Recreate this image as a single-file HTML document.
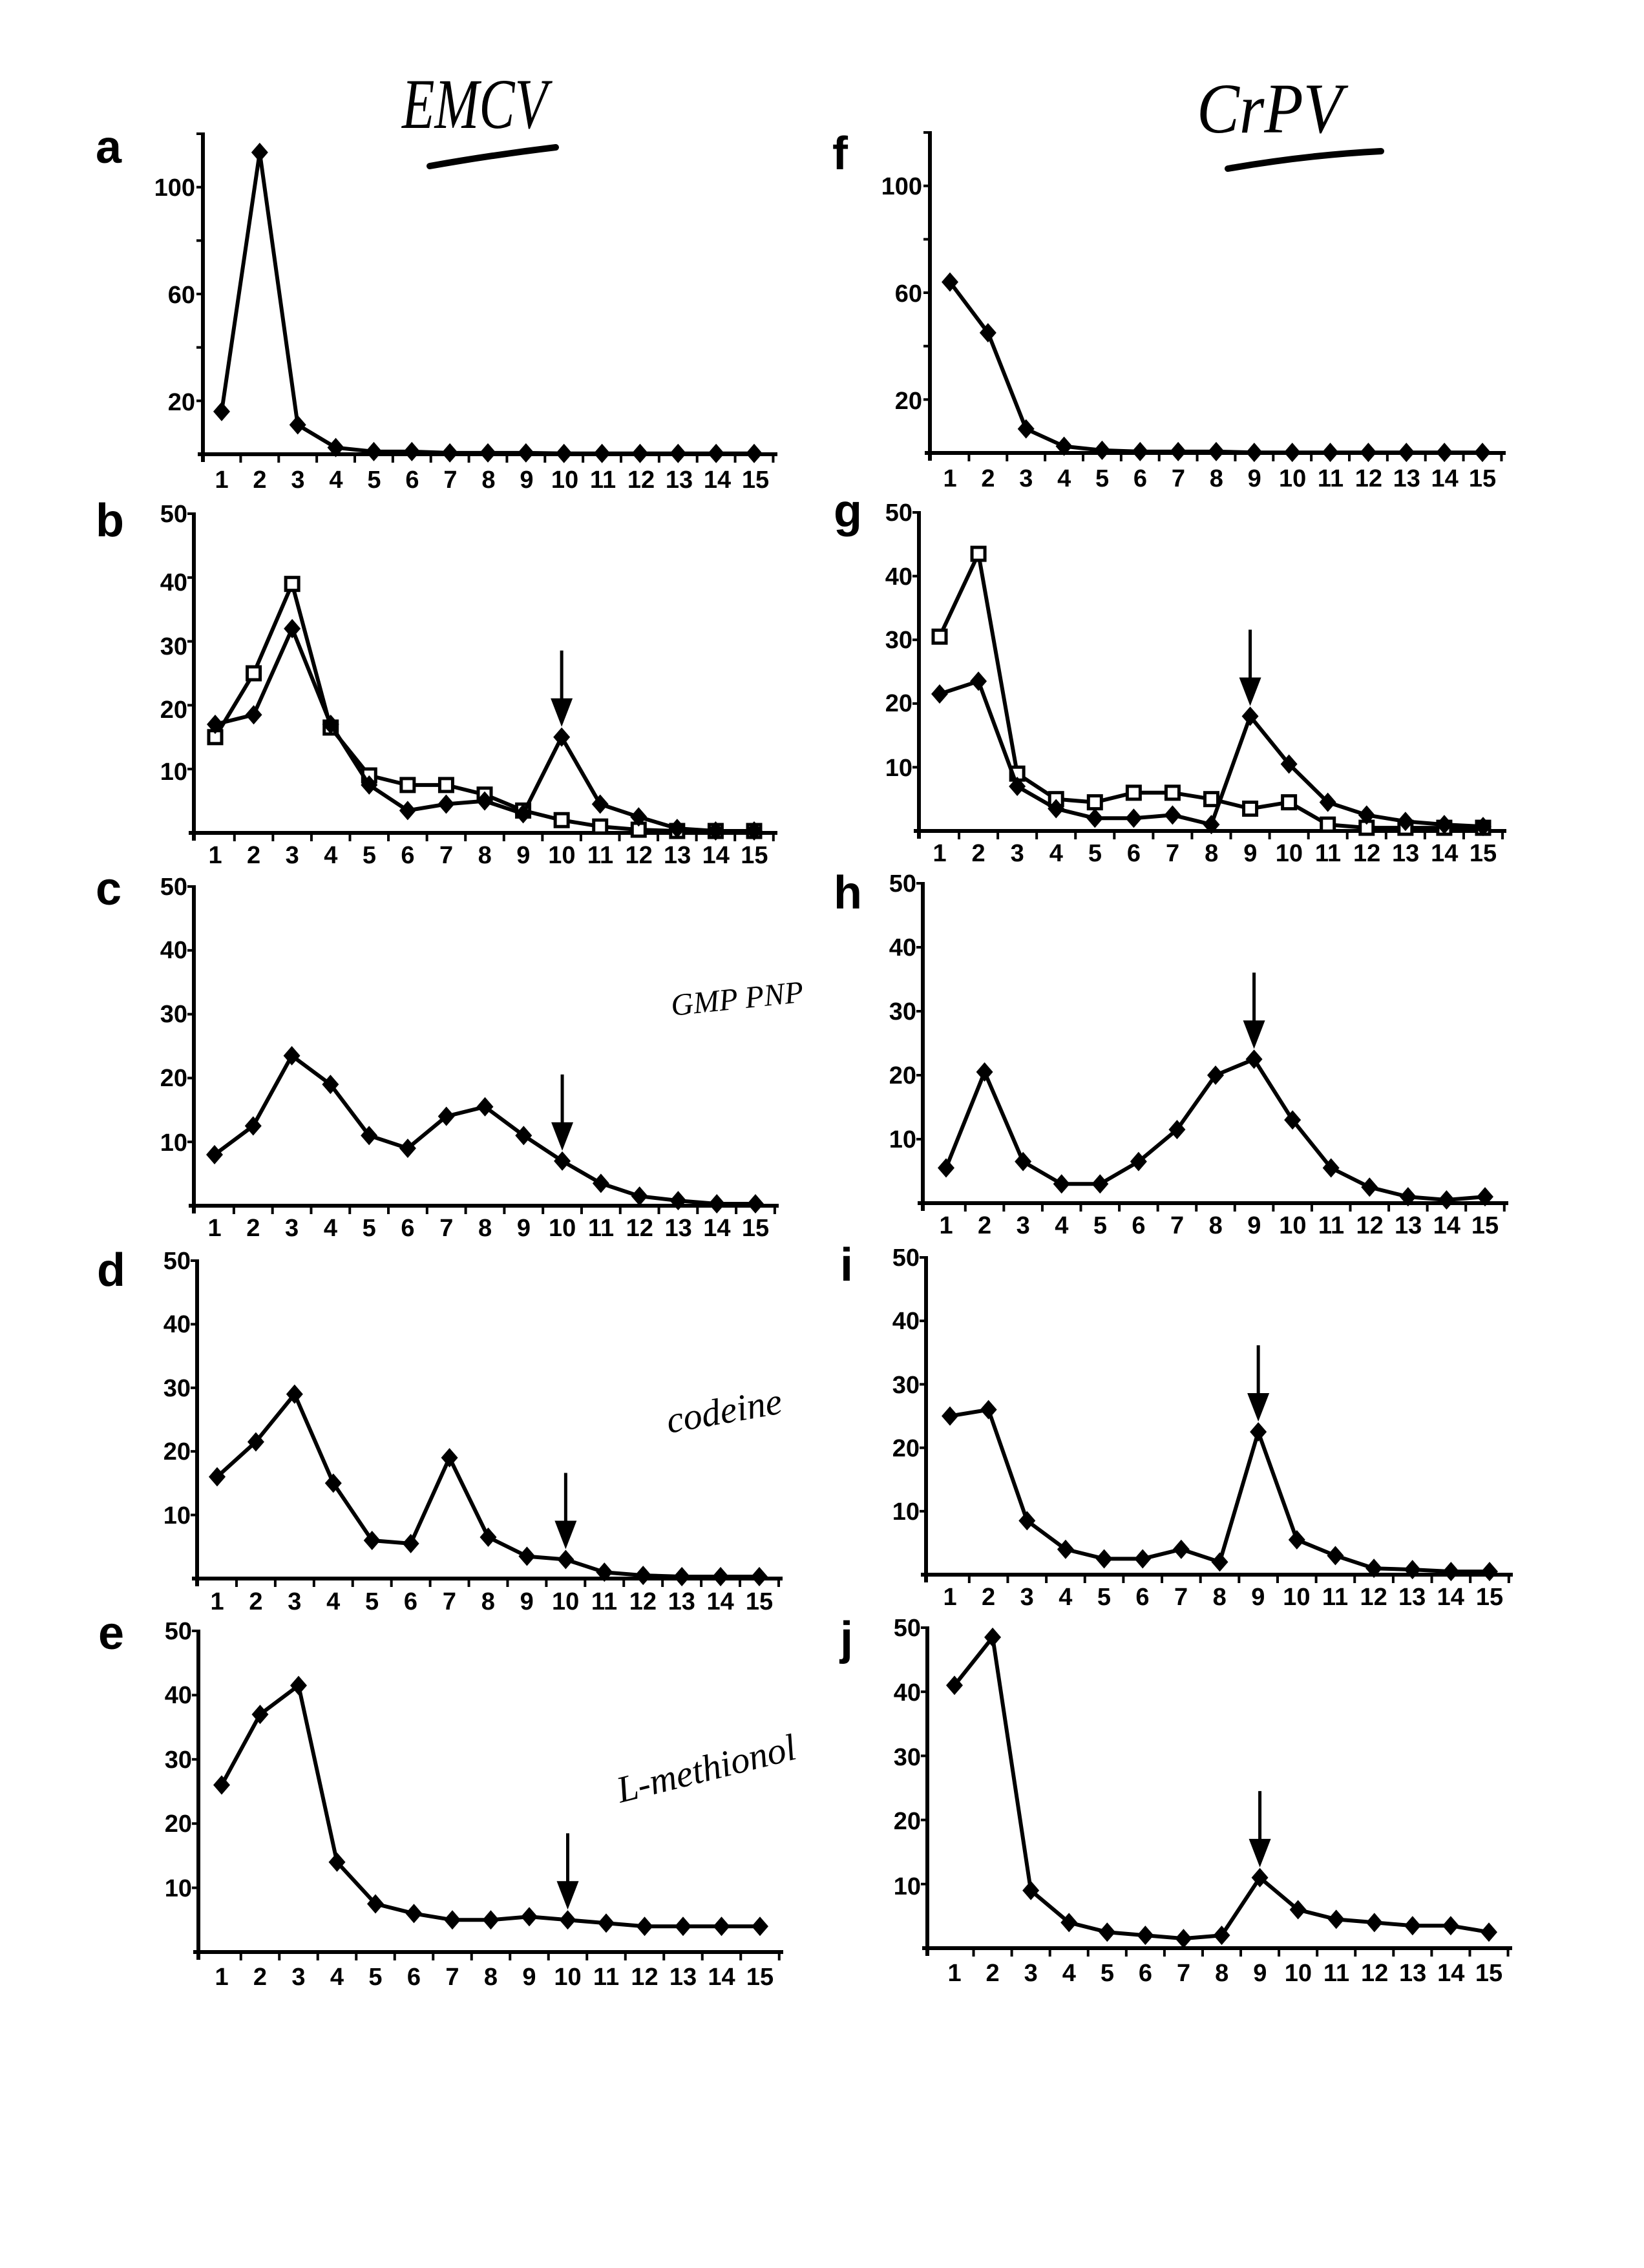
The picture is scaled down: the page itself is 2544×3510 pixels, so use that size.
<!DOCTYPE html>
<html><head><meta charset="utf-8"><style>
html,body{margin:0;padding:0;background:#fff;}
svg{display:block;}
.t{font-family:"Liberation Sans",sans-serif;font-weight:bold;font-size:38px;fill:#000;}
.L{font-family:"Liberation Sans",sans-serif;font-weight:bold;font-size:72px;fill:#000;}
.h{font-family:"Liberation Serif",serif;font-style:italic;fill:#000;}
</style></head><body>
<svg id="s" width="2544" height="3510" viewBox="0 0 2544 3510" xmlns="http://www.w3.org/2000/svg">
<rect width="2544" height="3510" fill="#fff"/>
<g id="geo"></g>
<text class="L" x="148" y="252">a</text>
<text class="L" x="148" y="830">b</text>
<text class="L" x="148" y="1400">c</text>
<text class="L" x="150" y="1990">d</text>
<text class="L" x="152" y="2552">e</text>
<text class="L" x="1288" y="262">f</text>
<text class="L" x="1290" y="815">g</text>
<text class="L" x="1290" y="1406">h</text>
<text class="L" x="1300" y="1982">i</text>
<text class="L" x="1300" y="2560">j</text>
<text class="h" x="622" y="198" font-size="110" textLength="225" lengthAdjust="spacingAndGlyphs">EMCV</text>
<path d="M665,257 Q760,240 860,228" stroke="#000" stroke-width="10" fill="none" stroke-linecap="round"/>
<text class="h" x="1852" y="205" font-size="110" textLength="225" lengthAdjust="spacingAndGlyphs">CrPV</text>
<path d="M1900,261 Q2020,240 2137,234" stroke="#000" stroke-width="10" fill="none" stroke-linecap="round"/>
<text class="h" x="1040" y="1572" font-size="48" transform="rotate(-6 1040 1572)">GMP PNP</text>
<text class="h" x="1035" y="2218" font-size="58" transform="rotate(-10 1035 2218)">codeine</text>
<text class="h" x="960" y="2790" font-size="58" transform="rotate(-14 960 2790)">L-methionol</text>
<g class="t" text-anchor="end">
<text x="302" y="303">100</text><text x="302" y="469">60</text><text x="302" y="635">20</text>
<text x="290" y="808">50</text><text x="290" y="914">40</text><text x="290" y="1013">30</text><text x="290" y="1111">20</text><text x="290" y="1207">10</text>
<text x="290" y="1385">50</text><text x="290" y="1483">40</text><text x="290" y="1582">30</text><text x="290" y="1681">20</text><text x="290" y="1781">10</text>
<text x="295" y="1964">50</text><text x="295" y="2062">40</text><text x="295" y="2161">30</text><text x="295" y="2259">20</text><text x="295" y="2358">10</text>
<text x="297" y="2537">50</text><text x="297" y="2636">40</text><text x="297" y="2736">30</text><text x="297" y="2835">20</text><text x="297" y="2935">10</text>
<text x="1427" y="301">100</text><text x="1427" y="467">60</text><text x="1427" y="633">20</text>
<text x="1412" y="806">50</text><text x="1412" y="905">40</text><text x="1412" y="1003">30</text><text x="1412" y="1101">20</text><text x="1412" y="1201">10</text>
<text x="1418" y="1380">50</text><text x="1418" y="1479">40</text><text x="1418" y="1578">30</text><text x="1418" y="1677">20</text><text x="1418" y="1776">10</text>
<text x="1423" y="1959">50</text><text x="1423" y="2057">40</text><text x="1423" y="2156">30</text><text x="1423" y="2254">20</text><text x="1423" y="2352">10</text>
<text x="1425" y="2532">50</text><text x="1425" y="2632">40</text><text x="1425" y="2732">30</text><text x="1425" y="2831">20</text><text x="1425" y="2932">10</text>
</g>
<g class="t" text-anchor="middle">
<g transform="translate(343,755)"><text x="0">1</text><text x="59">2</text><text x="118">3</text><text x="177">4</text><text x="236">5</text><text x="295">6</text><text x="354">7</text><text x="413">8</text><text x="472">9</text><text x="531">10</text><text x="590">11</text><text x="649">12</text><text x="708">13</text><text x="767">14</text><text x="826">15</text></g>
<g transform="translate(333,1336)"><text x="0">1</text><text x="59.6">2</text><text x="119.2">3</text><text x="178.8">4</text><text x="238.4">5</text><text x="298">6</text><text x="357.6">7</text><text x="417.2">8</text><text x="476.8">9</text><text x="536.4">10</text><text x="596">11</text><text x="655.6">12</text><text x="715.2">13</text><text x="774.8">14</text><text x="834.4">15</text></g>
<g transform="translate(332,1913)"><text x="0">1</text><text x="59.8">2</text><text x="119.6">3</text><text x="179.4">4</text><text x="239.2">5</text><text x="299">6</text><text x="358.8">7</text><text x="418.6">8</text><text x="478.4">9</text><text x="538.2">10</text><text x="598">11</text><text x="657.8">12</text><text x="717.6">13</text><text x="777.4">14</text><text x="837">15</text></g>
<g transform="translate(336,2491)"><text x="0">1</text><text x="59.9">2</text><text x="119.8">3</text><text x="179.7">4</text><text x="239.6">5</text><text x="299.5">6</text><text x="359.4">7</text><text x="419.3">8</text><text x="479.2">9</text><text x="539.1">10</text><text x="599">11</text><text x="658.9">12</text><text x="718.8">13</text><text x="778.7">14</text><text x="839">15</text></g>
<g transform="translate(343,3072)"><text x="0">1</text><text x="59.5">2</text><text x="119">3</text><text x="178.5">4</text><text x="238">5</text><text x="297.5">6</text><text x="357">7</text><text x="416.5">8</text><text x="476">9</text><text x="535.5">10</text><text x="595">11</text><text x="654.5">12</text><text x="714">13</text><text x="773.5">14</text><text x="833">15</text></g>
<g transform="translate(1470,753)"><text x="0">1</text><text x="58.9">2</text><text x="117.8">3</text><text x="176.7">4</text><text x="235.6">5</text><text x="294.5">6</text><text x="353.4">7</text><text x="412.3">8</text><text x="471.2">9</text><text x="530.1">10</text><text x="589">11</text><text x="647.9">12</text><text x="706.8">13</text><text x="765.7">14</text><text x="824">15</text></g>
<g transform="translate(1454,1333)"><text x="0">1</text><text x="60.1">2</text><text x="120.2">3</text><text x="180.3">4</text><text x="240.4">5</text><text x="300.5">6</text><text x="360.6">7</text><text x="420.7">8</text><text x="480.8">9</text><text x="540.9">10</text><text x="601">11</text><text x="661.1">12</text><text x="721.2">13</text><text x="781.3">14</text><text x="841">15</text></g>
<g transform="translate(1464,1909)"><text x="0">1</text><text x="59.6">2</text><text x="119.2">3</text><text x="178.8">4</text><text x="238.4">5</text><text x="298">6</text><text x="357.6">7</text><text x="417.2">8</text><text x="476.8">9</text><text x="536.4">10</text><text x="596">11</text><text x="655.6">12</text><text x="715.2">13</text><text x="774.8">14</text><text x="834">15</text></g>
<g transform="translate(1470,2484)"><text x="0">1</text><text x="59.6">2</text><text x="119.2">3</text><text x="178.8">4</text><text x="238.4">5</text><text x="298">6</text><text x="357.6">7</text><text x="417.2">8</text><text x="476.8">9</text><text x="536.4">10</text><text x="596">11</text><text x="655.6">12</text><text x="715.2">13</text><text x="774.8">14</text><text x="835">15</text></g>
<g transform="translate(1477,3066)"><text x="0">1</text><text x="59.1">2</text><text x="118.2">3</text><text x="177.3">4</text><text x="236.4">5</text><text x="295.5">6</text><text x="354.6">7</text><text x="413.7">8</text><text x="472.8">9</text><text x="531.9">10</text><text x="591">11</text><text x="650.1">12</text><text x="709.2">13</text><text x="768.3">14</text><text x="827">15</text></g>
</g>
</svg>
<script>
(function(){
var P=[
{ax:314,top:207,base:703,x1:343,x15:1167,max:120,step:20,s:[[16,113,11,2.5,1,1,0.5,0.5,0.5,0.3,0.3,0.3,0.3,0.3,0.3]]},
{ax:300,top:795,base:1289,x1:333,x15:1167,max:50,step:10,s:[[15,25,39,16.5,9,7.5,7.5,6,3.5,2,1,0.5,0.3,0.3,0.3],[17,18.5,32,17,7.5,3.5,4.5,5,3,15,4.5,2.5,0.7,0.3,0.3]],open:0,arrow:10},
{ax:300,top:1372,base:1866,x1:332,x15:1169,max:50,step:10,s:[[8,12.5,23.5,19,11,9,14,15.5,11,7,3.5,1.5,0.8,0.3,0.3]],arrow:10},
{ax:305,top:1951,base:2443,x1:336,x15:1175,max:50,step:10,s:[[16,21.5,29,15,6,5.5,19,6.5,3.5,3,1,0.5,0.3,0.3,0.3]],arrow:10},
{ax:307,top:2524,base:3021,x1:343,x15:1176,max:50,step:10,s:[[26,37,41.5,14,7.5,6,5,5,5.5,5,4.5,4,4,4,4]],arrow:10},
{ax:1439,top:205,base:701,x1:1470,x15:2294,max:120,step:20,s:[[64,45,9,2.5,1,0.5,0.5,0.5,0.2,0.2,0.2,0.2,0.2,0.2,0.2]]},
{ax:1422,top:793,base:1286,x1:1454,x15:2295,max:50,step:10,s:[[30.5,43.5,9,5,4.5,6,6,5,3.5,4.5,1,0.5,0.5,0.5,0.5],[21.5,23.5,7,3.5,2,2,2.5,1,18,10.5,4.5,2.5,1.5,1,0.7]],open:0,arrow:9},
{ax:1428,top:1367,base:1862,x1:1464,x15:2298,max:50,step:10,s:[[5.5,20.5,6.5,3,3,6.5,11.5,20,22.5,13,5.5,2.5,1,0.5,1]],arrow:9},
{ax:1433,top:1946,base:2437,x1:1470,x15:2305,max:50,step:10,s:[[25,26,8.5,4,2.5,2.5,4,2,22.5,5.5,3,1,0.8,0.5,0.5]],arrow:9},
{ax:1435,top:2519,base:3015,x1:1477,x15:2304,max:50,step:10,s:[[41,48.5,9,4,2.5,2,1.5,2,11,6,4.5,4,3.5,3.5,2.5]],arrow:9}
];
var h='';
P.forEach(function(p){
 var sp=(p.x15-p.x1)/14, k=(p.base-p.top)/p.max;
 function X(i){return p.x1+i*sp;} function Y(v){return p.base-v*k;}
 h+='<line x1="'+p.ax+'" y1="'+(p.top-2)+'" x2="'+p.ax+'" y2="'+(p.base+12)+'" stroke="#000" stroke-width="6"/>';
 h+='<line x1="'+(p.ax-8)+'" y1="'+p.base+'" x2="'+(p.x15+36)+'" y2="'+p.base+'" stroke="#000" stroke-width="6"/>';
 for(var v=p.step;v<=p.max;v+=p.step){h+='<line x1="'+(p.ax-10)+'" y1="'+Y(v)+'" x2="'+p.ax+'" y2="'+Y(v)+'" stroke="#000" stroke-width="4"/>';}
 for(var t=1;t<=15;t++){var tx=X(t-1)+sp/2; h+='<line x1="'+tx+'" y1="'+p.base+'" x2="'+tx+'" y2="'+(p.base+13)+'" stroke="#000" stroke-width="4"/>';}
 p.s.forEach(function(d,si){
  var pts=d.map(function(v,i){return X(i).toFixed(1)+','+Y(v).toFixed(1);}).join(' ');
  h+='<polyline points="'+pts+'" fill="none" stroke="#000" stroke-width="6" stroke-linejoin="round"/>';
  var open=(p.open===si);
  d.forEach(function(v,i){var x=X(i),y=Y(v);
   if(open){h+='<rect x="'+(x-10)+'" y="'+(y-10)+'" width="20" height="20" fill="#fff" stroke="#000" stroke-width="5"/>';}
   else{h+='<polygon points="'+x+','+(y-15)+' '+(x+13)+','+y+' '+x+','+(y+15)+' '+(x-13)+','+y+'" fill="#000"/>';}
  });
 });
 if(p.arrow){
  var ai=p.arrow-1, mv=Math.max.apply(null,p.s.map(function(d){return d[ai];}));
  var x=X(ai), tip=Y(mv)-16;
  h+='<line x1="'+x+'" y1="'+(tip-118)+'" x2="'+x+'" y2="'+(tip-30)+'" stroke="#000" stroke-width="5"/>';
  h+='<polygon points="'+(x-17)+','+(tip-44)+' '+(x+17)+','+(tip-44)+' '+x+','+tip+'" fill="#000"/>';
 }
});
document.getElementById('geo').innerHTML=h;
})();
</script>
</body></html>
